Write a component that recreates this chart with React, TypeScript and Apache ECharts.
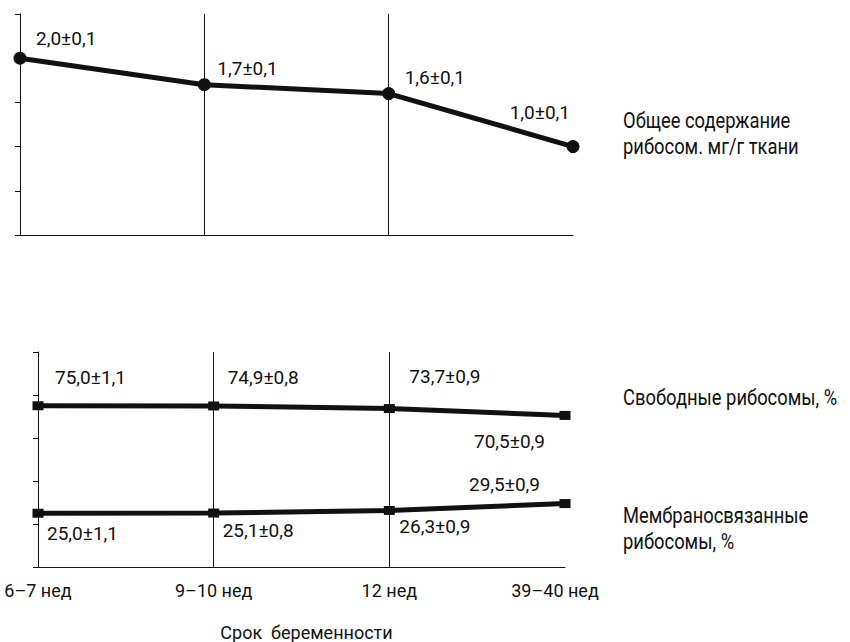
import React, { useEffect, useRef } from "react";
import * as echarts from "echarts";

const categories = ["6–7 нед", "9–10 нед", "12 нед", "39–40 нед"];
const totalMean = [2.0, 1.7, 1.6, 1.0];
const totalErr = [0.1, 0.1, 0.1, 0.1];
const freeMean = [75.0, 74.9, 73.7, 70.5];
const freeErr = [1.1, 0.8, 0.9, 0.9];
const boundMean = [25.0, 25.1, 26.3, 29.5];
const boundErr = [1.1, 0.8, 0.9, 0.9];
const topAxisMax = 2.5;
const topAxisStep = 0.5;
const bottomAxisMax = 100;
const bottomAxisStep = 20;
const xTitle = "Срок  беременности";
const totalName = ["Общее содержание", "рибосом. мг/г ткани"];
const freeName = "Свободные рибосомы, %";
const boundName = ["Мембраносвязанные", "рибосомы, %"];

// label placement (styles, not data)
const totalLabelPos: [number, number, string][] = [
  [16, -20, "left"],
  [13, -16, "left"],
  [16, -16, "left"],
  [-3, -34, "right"],
];
const freeLabelPos: [number, number, string][] = [
  [17, -28, "left"],
  [14, -28, "left"],
  [20, -32, "left"],
  [-20, 26, "right"],
];
const boundLabelPos: [number, number, string][] = [
  [9, 20, "left"],
  [9, 17, "left"],
  [10, 16, "left"],
  [-25, -19, "right"],
];

const FONT = 'Roboto, "Liberation Sans", sans-serif';
const INK = "#111";

const fmt = (v: number) => v.toFixed(1).replace(".", ",");

function items(mean: number[], err: number[], pos: [number, number, string][]) {
  return mean.map((v, i) => ({
    value: v,
    label: {
      show: true,
      position: "inside",
      align: pos[i][2],
      verticalAlign: "middle",
      offset: [pos[i][0], pos[i][1]],
      formatter: () => `${fmt(v)}±${fmt(err[i])}`,
    },
  }));
}

function sideText(text: string, x: number, y: number) {
  return {
    type: "text",
    x,
    y,
    scaleX: 0.835,
    style: {
      x: 0,
      y: 0,
      text,
      fill: INK,
      font: `22px ${FONT}`,
      lineHeight: 26,
      align: "left",
      verticalAlign: "top",
    },
  };
}

export default function App() {
  const ref = useRef<HTMLDivElement>(null);
  useEffect(() => {
    document.body.style.margin = "0";
    const chart = echarts.init(ref.current!, null, { renderer: "svg" });
    const labelStyle = { color: INK, fontFamily: FONT, fontSize: 19 };
    const gridMark = {
      silent: true,
      symbol: "none",
      label: { show: false },
      lineStyle: { color: INK, width: 1, type: "solid" },
      data: [{ xAxis: categories[1] }, { xAxis: categories[2] }],
    };
    const yCommon = {
      type: "value",
      min: 0,
      axisLine: { show: true, lineStyle: { color: INK, width: 1 } },
      axisTick: { show: true, inside: false, length: 5, lineStyle: { color: INK } },
      axisLabel: { show: false },
      splitLine: { show: false },
    };
    chart.setOption({
      animation: false,
      backgroundColor: "#fff",
      textStyle: { fontFamily: FONT },
      grid: [
        { left: 20, width: 553, top: 14, height: 221 },
        { left: 38, width: 527, top: 352, height: 225 },
      ],
      xAxis: [
        {
          type: "category",
          gridIndex: 0,
          data: categories,
          boundaryGap: false,
          axisLine: { lineStyle: { color: INK, width: 1 } },
          axisTick: { show: false },
          axisLabel: { show: false },
          splitLine: { show: false },
        },
        {
          type: "category",
          gridIndex: 1,
          data: categories,
          boundaryGap: false,
          axisLine: { lineStyle: { color: INK, width: 1 } },
          axisTick: { show: false },
          axisLabel: {
            color: INK,
            fontFamily: FONT,
            fontSize: 18,
            margin: 14,
            formatter: (v: string, i: number) => (i === categories.length - 1 ? `{l|${v}}` : v),
            rich: { l: { color: INK, fontFamily: FONT, fontSize: 18, padding: [0, 20, 0, 0] } },
          },
          splitLine: { show: false },
          name: xTitle,
          nameLocation: "middle",
          nameGap: 56,
          nameTextStyle: { color: INK, fontFamily: FONT, fontSize: 18, padding: [0, 0, 0, 10] },
        },
      ],
      yAxis: [
        { ...yCommon, gridIndex: 0, max: topAxisMax, interval: topAxisStep },
        { ...yCommon, gridIndex: 1, max: bottomAxisMax, interval: bottomAxisStep },
      ],
      series: [
        {
          type: "line",
          xAxisIndex: 0,
          yAxisIndex: 0,
          data: items(totalMean, totalErr, totalLabelPos),
          symbol: "circle",
          symbolSize: 13,
          itemStyle: { color: INK },
          lineStyle: { color: INK, width: 5 },
          label: labelStyle,
          markLine: gridMark,
          z: 3,
        },
        {
          type: "line",
          xAxisIndex: 1,
          yAxisIndex: 1,
          data: items(freeMean, freeErr, freeLabelPos),
          symbol: "rect",
          symbolSize: [11, 9],
          itemStyle: { color: INK },
          lineStyle: { color: INK, width: 5 },
          label: labelStyle,
          markLine: gridMark,
          z: 3,
        },
        {
          type: "line",
          xAxisIndex: 1,
          yAxisIndex: 1,
          data: items(boundMean, boundErr, boundLabelPos),
          symbol: "rect",
          symbolSize: [11, 9],
          itemStyle: { color: INK },
          lineStyle: { color: INK, width: 5 },
          label: labelStyle,
          z: 3,
        },
      ],
      graphic: [
        sideText(totalName.join("\n"), 623, 107),
        sideText(freeName, 623, 384),
        sideText(boundName.join("\n"), 623, 502),
      ],
    });
    return () => chart.dispose();
  }, []);
  return <div ref={ref} style={{ width: 850, height: 642 }} />;
}
